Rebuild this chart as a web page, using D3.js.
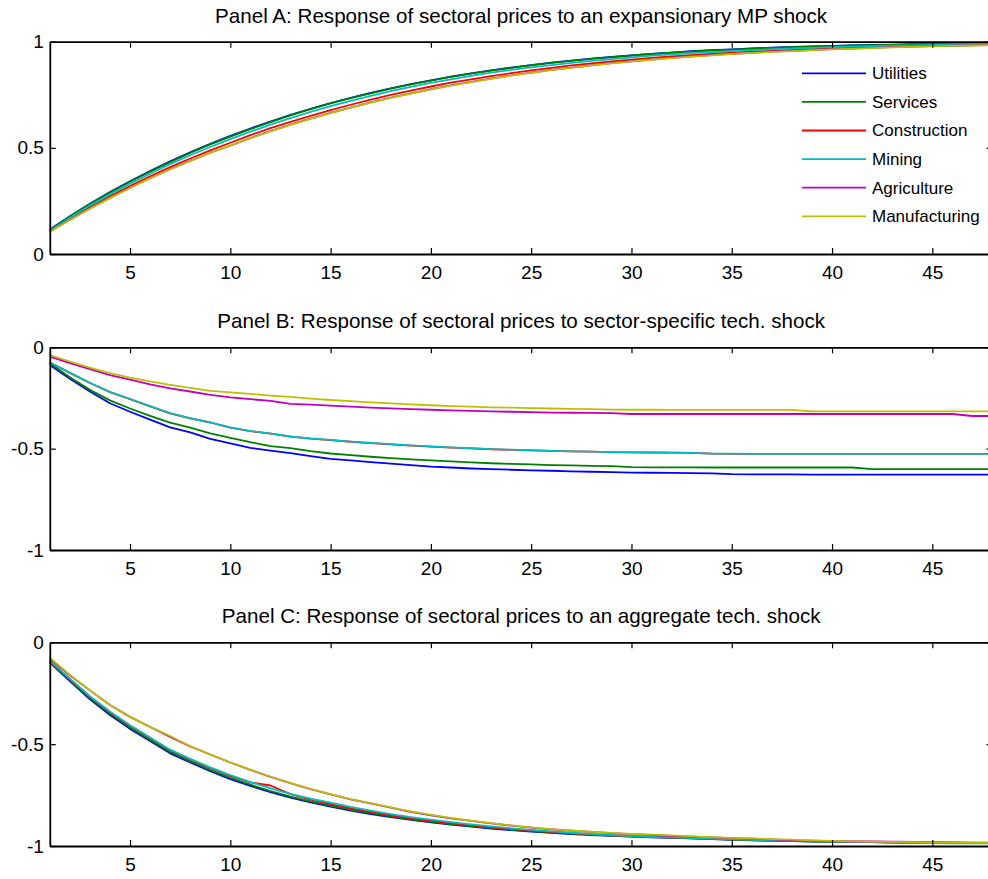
<!DOCTYPE html>
<html>
<head>
<meta charset="utf-8">
<script src="https://cdn.jsdelivr.net/npm/d3@7"></script>
<style>
  body { margin: 0; background: #fff; }
  text { font-family: "Liberation Sans", Arial, sans-serif; fill: #000; }
</style>
</head>
<body>
<div id="chart"></div>
<script>
var width = 988,
    height = 879;

var sectors = ["Utilities", "Services", "Construction", "Mining", "Agriculture", "Manufacturing"];
var colors = ["#0000ff", "#008000", "#ff0000", "#00bfbf", "#bf00bf", "#bfbf00"];

var horizon = d3.range(1, 49);
var xTicks = [5, 10, 15, 20, 25, 30, 35, 40, 45];

var titles = [
  "Panel A: Response of sectoral prices to an expansionary MP shock",
  "Panel B: Response of sectoral prices to sector-specific tech. shock",
  "Panel C: Response of sectoral prices to an aggregate tech. shock"
];

// Panel A: expansionary MP shock
var mpUtilities = [0.115,0.178,0.237,0.292,0.343,0.391,0.437,0.479,0.519,0.556,0.591,0.624,0.655,0.684,0.711,0.736,0.759,0.780,0.800,0.818,0.835,0.851,0.865,0.878,0.890,0.901,0.911,0.920,0.928,0.936,0.943,0.949,0.955,0.960,0.964,0.968,0.972,0.975,0.978,0.980,0.983,0.985,0.986,0.988,0.989,0.991,0.992,0.993];
var mpServices = [0.113,0.177,0.235,0.289,0.340,0.388,0.433,0.476,0.516,0.553,0.588,0.621,0.653,0.682,0.709,0.734,0.757,0.779,0.799,0.817,0.834,0.850,0.864,0.877,0.889,0.900,0.910,0.919,0.927,0.935,0.942,0.948,0.954,0.959,0.963,0.967,0.971,0.974,0.977,0.979,0.982,0.984,0.985,0.987,0.988,0.990,0.991,0.992];
var mpConstruction = [0.108,0.166,0.221,0.272,0.320,0.366,0.409,0.450,0.488,0.524,0.560,0.593,0.622,0.651,0.678,0.703,0.727,0.749,0.770,0.789,0.807,0.823,0.838,0.852,0.865,0.877,0.888,0.898,0.907,0.916,0.924,0.931,0.937,0.943,0.948,0.953,0.957,0.961,0.965,0.968,0.971,0.974,0.976,0.978,0.980,0.982,0.984,0.985];
var mpMining = [0.110,0.171,0.228,0.281,0.331,0.378,0.423,0.465,0.504,0.541,0.576,0.609,0.640,0.669,0.696,0.721,0.745,0.767,0.787,0.806,0.823,0.839,0.854,0.867,0.879,0.890,0.900,0.910,0.918,0.926,0.934,0.940,0.946,0.951,0.956,0.960,0.964,0.968,0.971,0.974,0.977,0.979,0.981,0.983,0.985,0.987,0.988,0.989];
var mpAgriculture = [0.106,0.161,0.214,0.264,0.312,0.357,0.399,0.439,0.477,0.510,0.546,0.579,0.609,0.638,0.665,0.690,0.714,0.736,0.757,0.776,0.794,0.811,0.826,0.841,0.854,0.867,0.878,0.889,0.899,0.908,0.916,0.924,0.931,0.937,0.943,0.948,0.953,0.957,0.961,0.965,0.968,0.971,0.974,0.977,0.979,0.981,0.983,0.985];
var mpManufacturing = [0.105,0.160,0.213,0.263,0.311,0.356,0.398,0.438,0.476,0.512,0.546,0.578,0.608,0.637,0.664,0.689,0.713,0.735,0.756,0.775,0.793,0.810,0.825,0.840,0.853,0.866,0.877,0.888,0.898,0.907,0.915,0.923,0.930,0.936,0.942,0.947,0.952,0.956,0.960,0.964,0.967,0.970,0.973,0.976,0.978,0.980,0.982,0.984];

// Panel B: sector-specific technology shock
var stUtilities = [-0.087,-0.155,-0.218,-0.276,-0.318,-0.357,-0.395,-0.420,-0.452,-0.474,-0.496,-0.510,-0.522,-0.537,-0.550,-0.558,-0.566,-0.574,-0.581,-0.589,-0.593,-0.598,-0.601,-0.604,-0.607,-0.609,-0.612,-0.614,-0.616,-0.618,-0.619,-0.620,-0.621,-0.622,-0.626,-0.627,-0.627,-0.627,-0.628,-0.628,-0.628,-0.628,-0.628,-0.628,-0.628,-0.628,-0.628,-0.628];
var stServices = [-0.079,-0.148,-0.210,-0.262,-0.302,-0.338,-0.372,-0.396,-0.425,-0.447,-0.468,-0.488,-0.497,-0.512,-0.524,-0.532,-0.540,-0.547,-0.553,-0.558,-0.563,-0.568,-0.572,-0.575,-0.578,-0.581,-0.583,-0.585,-0.586,-0.591,-0.592,-0.592,-0.592,-0.593,-0.593,-0.593,-0.593,-0.593,-0.593,-0.593,-0.593,-0.601,-0.601,-0.601,-0.601,-0.601,-0.601,-0.601];
var stConstruction = [-0.075,-0.126,-0.176,-0.221,-0.256,-0.291,-0.326,-0.351,-0.371,-0.396,-0.414,-0.426,-0.441,-0.451,-0.458,-0.466,-0.473,-0.479,-0.485,-0.490,-0.495,-0.499,-0.503,-0.506,-0.509,-0.511,-0.513,-0.515,-0.517,-0.518,-0.519,-0.520,-0.521,-0.525,-0.526,-0.526,-0.526,-0.526,-0.526,-0.526,-0.526,-0.526,-0.526,-0.526,-0.526,-0.526,-0.526,-0.526];
var stMining = [-0.074,-0.125,-0.175,-0.220,-0.255,-0.290,-0.325,-0.350,-0.370,-0.395,-0.413,-0.425,-0.440,-0.450,-0.457,-0.465,-0.472,-0.478,-0.484,-0.489,-0.494,-0.498,-0.502,-0.505,-0.508,-0.511,-0.513,-0.515,-0.517,-0.518,-0.519,-0.520,-0.521,-0.525,-0.525,-0.526,-0.526,-0.526,-0.526,-0.526,-0.526,-0.526,-0.526,-0.526,-0.526,-0.526,-0.526,-0.526];
var stAgriculture = [-0.046,-0.078,-0.108,-0.137,-0.160,-0.183,-0.203,-0.218,-0.235,-0.247,-0.256,-0.264,-0.279,-0.283,-0.288,-0.293,-0.298,-0.301,-0.305,-0.308,-0.311,-0.314,-0.316,-0.318,-0.320,-0.322,-0.323,-0.324,-0.325,-0.329,-0.329,-0.329,-0.329,-0.329,-0.329,-0.329,-0.329,-0.329,-0.329,-0.329,-0.329,-0.329,-0.329,-0.329,-0.329,-0.329,-0.339,-0.339];
var stManufacturing = [-0.038,-0.070,-0.100,-0.127,-0.150,-0.168,-0.185,-0.200,-0.215,-0.222,-0.230,-0.238,-0.245,-0.253,-0.260,-0.266,-0.272,-0.277,-0.282,-0.286,-0.290,-0.293,-0.296,-0.298,-0.300,-0.302,-0.304,-0.305,-0.307,-0.308,-0.308,-0.309,-0.309,-0.309,-0.309,-0.309,-0.309,-0.309,-0.316,-0.316,-0.316,-0.316,-0.316,-0.316,-0.316,-0.316,-0.316,-0.316];

// Panel C: aggregate technology shock
var atUtilities = [-0.100,-0.190,-0.280,-0.357,-0.425,-0.485,-0.545,-0.590,-0.633,-0.672,-0.705,-0.736,-0.762,-0.786,-0.807,-0.826,-0.843,-0.858,-0.872,-0.884,-0.895,-0.905,-0.914,-0.922,-0.929,-0.935,-0.941,-0.946,-0.950,-0.954,-0.957,-0.960,-0.963,-0.966,-0.970,-0.972,-0.974,-0.976,-0.978,-0.979,-0.980,-0.981,-0.982,-0.983,-0.985,-0.985,-0.986,-0.986];
var atServices = [-0.096,-0.185,-0.274,-0.350,-0.418,-0.478,-0.538,-0.583,-0.626,-0.665,-0.699,-0.730,-0.757,-0.781,-0.802,-0.822,-0.839,-0.855,-0.869,-0.881,-0.892,-0.902,-0.911,-0.919,-0.927,-0.933,-0.939,-0.944,-0.949,-0.953,-0.956,-0.959,-0.962,-0.965,-0.968,-0.971,-0.973,-0.975,-0.977,-0.978,-0.980,-0.981,-0.983,-0.984,-0.985,-0.985,-0.986,-0.986];
var atConstruction = [-0.092,-0.180,-0.268,-0.343,-0.410,-0.470,-0.530,-0.575,-0.617,-0.656,-0.688,-0.703,-0.745,-0.772,-0.795,-0.815,-0.833,-0.849,-0.864,-0.877,-0.888,-0.898,-0.908,-0.916,-0.924,-0.931,-0.937,-0.943,-0.948,-0.952,-0.955,-0.958,-0.961,-0.964,-0.967,-0.970,-0.972,-0.974,-0.976,-0.978,-0.979,-0.980,-0.981,-0.982,-0.983,-0.984,-0.985,-0.985];
var atMining = [-0.090,-0.178,-0.265,-0.340,-0.407,-0.467,-0.527,-0.572,-0.614,-0.652,-0.686,-0.717,-0.744,-0.768,-0.787,-0.808,-0.826,-0.843,-0.858,-0.871,-0.883,-0.894,-0.904,-0.913,-0.921,-0.928,-0.935,-0.941,-0.946,-0.951,-0.955,-0.958,-0.961,-0.964,-0.967,-0.970,-0.972,-0.974,-0.976,-0.978,-0.980,-0.981,-0.983,-0.985,-0.986,-0.987,-0.987,-0.987];
var atAgriculture = [-0.080,-0.162,-0.236,-0.308,-0.366,-0.416,-0.464,-0.511,-0.551,-0.590,-0.626,-0.661,-0.692,-0.721,-0.746,-0.771,-0.791,-0.812,-0.832,-0.849,-0.864,-0.877,-0.889,-0.900,-0.910,-0.918,-0.925,-0.931,-0.937,-0.942,-0.946,-0.950,-0.954,-0.958,-0.961,-0.964,-0.967,-0.972,-0.974,-0.976,-0.978,-0.978,-0.979,-0.980,-0.981,-0.982,-0.983,-0.984];
var atManufacturing = [-0.075,-0.160,-0.235,-0.308,-0.365,-0.415,-0.460,-0.510,-0.550,-0.590,-0.625,-0.660,-0.690,-0.720,-0.745,-0.770,-0.790,-0.810,-0.830,-0.847,-0.862,-0.876,-0.888,-0.899,-0.909,-0.917,-0.924,-0.930,-0.936,-0.941,-0.944,-0.948,-0.953,-0.957,-0.960,-0.963,-0.966,-0.969,-0.972,-0.975,-0.977,-0.979,-0.980,-0.981,-0.982,-0.983,-0.984,-0.985];

var panels = [
  { title: titles[0], top: 41.7, bottom: 254, domain: [0, 1], ticks: [0, 0.5, 1],
    series: [mpUtilities, mpServices, mpConstruction, mpMining, mpAgriculture, mpManufacturing], legend: true },
  { title: titles[1], top: 347.3, bottom: 550, domain: [-1, 0], ticks: [-1, -0.5, 0],
    series: [stUtilities, stServices, stConstruction, stMining, stAgriculture, stManufacturing], legend: false },
  { title: titles[2], top: 642.3, bottom: 846, domain: [-1, 0], ticks: [-1, -0.5, 0],
    series: [atUtilities, atServices, atConstruction, atMining, atAgriculture, atManufacturing], legend: false }
];

var left = 49.8,
    right = 992.5,
    tickLen = 6;

var svg = d3.select("#chart").append("svg")
  .attr("width", width)
  .attr("height", height);

var x = d3.scaleLinear()
  .domain([1, 48])
  .range([left, right]);

panels.forEach(function(p) {
  var y = d3.scaleLinear()
    .domain(p.domain)
    .range([p.bottom, p.top]);

  var g = svg.append("g");

  // lines
  var line = d3.line()
    .x(function(d, i) { return x(horizon[i]); })
    .y(function(d) { return y(d); });

  p.series.forEach(function(s, k) {
    g.append("path")
      .datum(s)
      .attr("d", line)
      .style("fill", "none")
      .style("stroke", colors[k])
      .style("stroke-width", 1.8)
      .style("stroke-linejoin", "round");
  });

  // axes: bottom, left, plus mirrored ticks on top and right
  g.append("g")
    .attr("transform", "translate(0," + p.bottom + ")")
    .call(d3.axisBottom(x).tickValues(xTicks).tickSizeInner(-tickLen).tickSizeOuter(0).tickPadding(12))
    .call(styleAxis);
  g.append("g")
    .attr("transform", "translate(0," + p.top + ")")
    .call(d3.axisTop(x).tickValues(xTicks).tickSizeInner(-tickLen).tickSizeOuter(0).tickFormat(""))
    .call(styleAxis);
  g.append("g")
    .attr("transform", "translate(" + left + ",0)")
    .call(d3.axisLeft(y).tickValues(p.ticks).tickSizeInner(-tickLen).tickSizeOuter(0).tickPadding(6)
      .tickFormat(function(d) { return String(d); }))
    .call(styleAxis);
  g.append("g")
    .attr("transform", "translate(" + right + ",0)")
    .call(d3.axisRight(y).tickValues(p.ticks).tickSizeInner(-tickLen).tickSizeOuter(0).tickFormat(""))
    .call(styleAxis);

  svg.append("text")
    .attr("x", (left + right) / 2)
    .attr("y", p.top - 19)
    .style("text-anchor", "middle")
    .style("font-size", "20.6px")
    .text(p.title);

  if (p.legend) {
    var lg = svg.append("g");
    sectors.forEach(function(name, k) {
      var ly = 73.3 + k * 28.6;
      lg.append("line")
        .attr("x1", 802).attr("x2", 866)
        .attr("y1", ly).attr("y2", ly)
        .style("stroke", colors[k])
        .style("stroke-width", 1.8);
      lg.append("text")
        .attr("x", 872)
        .attr("y", ly)
        .attr("dy", "0.35em")
        .style("font-size", "17px")
        .text(name);
    });
  }
});

function styleAxis(sel) {
  sel.select(".domain").style("stroke", "#000").style("stroke-width", 1.8);
  sel.selectAll(".tick line").style("stroke", "#000").style("stroke-width", 1.2);
  sel.selectAll(".tick text")
    .style("font-family", "'Liberation Sans', Arial, sans-serif")
    .style("font-size", "19px")
    .style("fill", "#000");
}
</script>
</body>
</html>
